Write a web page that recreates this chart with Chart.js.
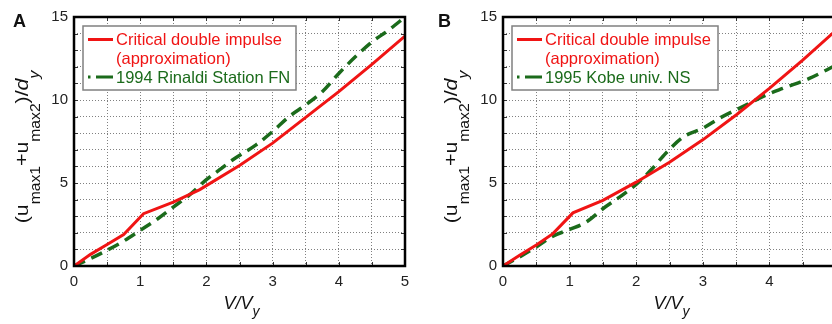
<!DOCTYPE html>
<html>
<head>
<meta charset="utf-8">
<script src="https://cdn.jsdelivr.net/npm/chart.js@4.4.1/dist/chart.umd.min.js"></script>
<style>
  html, body { margin: 0; padding: 0; background: #fff; overflow: hidden; width: 832px; height: 324px; }
  .panel { position: absolute; top: 0; height: 324px; }
  #wrapA { left: 0; width: 420px; }
  #wrapB { left: 420px; width: 440px; }
</style>
</head>
<body>
<div class="panel" id="wrapA"><canvas id="chartA" width="420" height="324"></canvas></div>
<div class="panel" id="wrapB"><canvas id="chartB" width="440" height="324"></canvas></div>
<script>
// values: x = V/Vy, y = (umax1+umax2)/dy
const redA_x = [0, 0.25, 0.5, 0.75, 1.05, 1.5, 1.9, 2.5, 3, 3.5, 4, 4.5, 5];
const redA_y = [0, 0.7, 1.3, 1.9, 3.15, 3.85, 4.6, 6.05, 7.4, 8.95, 10.5, 12.15, 13.85];
const greenA_x = [0, 0.25, 0.5, 0.75, 1, 1.25, 1.5, 1.75, 2, 2.2, 2.4, 2.75, 3, 3.25, 3.5, 3.75, 4, 4.25, 4.5, 4.75, 5];
const greenA_y = [0, 0.45, 0.95, 1.5, 2.15, 2.8, 3.55, 4.3, 5.2, 5.8, 6.4, 7.3, 8.1, 9.0, 9.7, 10.5, 11.6, 12.6, 13.5, 14.2, 15.0];

const redB_x = [0, 0.25, 0.5, 0.75, 1.05, 1.5, 2, 2.5, 3, 3.5, 4, 4.5, 5];
const redB_y = [0, 0.65, 1.27, 1.95, 3.2, 3.95, 5.05, 6.25, 7.6, 9.1, 10.7, 12.4, 14.2];
const greenB_x = [0, 0.25, 0.5, 0.75, 1, 1.25, 1.5, 1.75, 1.9, 2.05, 2.25, 2.4, 2.7, 3, 3.25, 3.6, 3.95, 4.2, 4.6, 5];
const greenB_y = [0, 0.55, 1.15, 1.8, 2.2, 2.65, 3.45, 4.15, 4.6, 5.1, 5.9, 6.6, 7.75, 8.3, 8.9, 9.6, 10.3, 10.7, 11.3, 12.1];

const labelRed = ['Critical double impulse', '(approximation)'];
const labelGreenA = '1994 Rinaldi Station FN';
const labelGreenB = '1995 Kobe univ. NS';

const RED = '#f01414';
const GREEN = '#1b6b1b';
const FONT = '"Liberation Sans", Arial, sans-serif';

Chart.defaults.font.family = FONT;

function pts(xs, ys) {
  return xs.map((x, i) => ({ x: x, y: ys[i] }));
}

// draws a run of text pieces, some of them subscripts
function drawPieces(ctx, pieces, startX) {
  let x = startX;
  pieces.forEach(p => {
    ctx.font = p.font;
    ctx.fillText(p.t, x, p.dy || 0);
    x += ctx.measureText(p.t).width;
  });
}
function piecesWidth(ctx, pieces) {
  let w = 0;
  pieces.forEach(p => { ctx.font = p.font; w += ctx.measureText(p.t).width; });
  return w;
}

const decor = {
  id: 'decor',
  afterDatasetsDraw(chart, args, o) {
    const { ctx, chartArea: a } = chart;
    const xs = chart.scales.x, ys = chart.scales.y;
    ctx.save();

    // short inner ticks on all sides
    ctx.strokeStyle = '#333';
    ctx.lineWidth = 1;
    ctx.beginPath();
    xs.ticks.forEach(t => {
      const px = Math.round(xs.getPixelForValue(t.value)) + 0.5;
      ctx.moveTo(px, a.top); ctx.lineTo(px, a.top + 4);
      ctx.moveTo(px, a.bottom); ctx.lineTo(px, a.bottom - 4);
    });
    ys.ticks.forEach(t => {
      const py = Math.round(ys.getPixelForValue(t.value)) + 0.5;
      ctx.moveTo(a.left, py); ctx.lineTo(a.left + 4, py);
      ctx.moveTo(a.right, py); ctx.lineTo(a.right - 4, py);
    });
    ctx.stroke();

    // frame
    ctx.strokeStyle = '#000';
    ctx.lineWidth = 2.5;
    ctx.strokeRect(a.left, a.top, a.right - a.left, a.bottom - a.top);

    // legend box
    const bx = a.left + 9, by = a.top + 9, bw = o.legendW, bh = 64;
    ctx.fillStyle = '#fff';
    ctx.fillRect(bx, by, bw, bh);
    ctx.strokeStyle = '#808080';
    ctx.lineWidth = 1.5;
    ctx.strokeRect(bx, by, bw, bh);

    ctx.lineCap = 'butt';
    ctx.strokeStyle = RED;
    ctx.lineWidth = 3;
    ctx.beginPath();
    ctx.moveTo(bx + 5, by + 13.5); ctx.lineTo(bx + 30, by + 13.5);
    ctx.stroke();

    ctx.strokeStyle = GREEN;
    ctx.lineWidth = 3;
    ctx.beginPath();
    ctx.moveTo(bx + 5, by + 51); ctx.lineTo(bx + 7.5, by + 51);
    ctx.moveTo(bx + 13, by + 51); ctx.lineTo(bx + 30, by + 51);
    ctx.stroke();

    ctx.font = '16.5px ' + FONT;
    ctx.textBaseline = 'alphabetic';
    ctx.textAlign = 'left';
    ctx.fillStyle = RED;
    ctx.fillText(labelRed[0], bx + 33, by + 19);
    ctx.fillText(labelRed[1], bx + 33, by + 38);
    ctx.fillStyle = GREEN;
    ctx.fillText(o.greenLabel, bx + 33, by + 56.5);
    ctx.restore();
  },
  afterDraw(chart, args, o) {
    const { ctx, chartArea: a } = chart;
    ctx.save();
    ctx.fillStyle = '#111';
    ctx.textAlign = 'left';
    ctx.textBaseline = 'alphabetic';

    // panel letter
    ctx.font = 'bold 18px ' + FONT;
    ctx.fillText(o.letter, o.letterX, 27);

    // x title V/Vy
    const xp = [
      { t: 'V/V', font: 'italic 18px ' + FONT },
      { t: 'y', font: 'italic 14px ' + FONT, dy: 7 }
    ];
    const cx = (a.left + a.right) / 2 + 2;
    ctx.save();
    ctx.translate(cx, 309);
    drawPieces(ctx, xp, -piecesWidth(ctx, xp) / 2);
    ctx.restore();

    // y title (umax1+umax2)/dy
    const main = '19px ' + FONT, sub = '14px ' + FONT;
    const yp = [
      { t: '(u', font: main },
      { t: 'max1', font: sub, dy: 12 },
      { t: '+u', font: main },
      { t: 'max2', font: sub, dy: 12 },
      { t: ')/', font: main },
      { t: 'd', font: 'italic ' + main },
      { t: 'y', font: 'italic ' + sub, dy: 11 }
    ];
    ctx.save();
    ctx.translate(a.left - 46, (a.top + a.bottom) / 2 + 5.5);
    ctx.rotate(-Math.PI / 2);
    ctx.scale(1.12, 1);
    drawPieces(ctx, yp, -piecesWidth(ctx, yp) / 2);
    ctx.restore();

    ctx.restore();
  }
};

function makeChart(id, red, green, opts) {
  return new Chart(document.getElementById(id), {
    type: 'line',
    data: {
      datasets: [
        {
          data: red,
          borderColor: RED,
          borderWidth: 3,
          pointRadius: 0,
          tension: 0,
          fill: false
        },
        {
          data: green,
          borderColor: GREEN,
          borderWidth: 3.5,
          borderDash: [12, 7],
          pointRadius: 0,
          cubicInterpolationMode: 'monotone',
          fill: false
        }
      ]
    },
    options: {
      responsive: false,
      animation: false,
      layout: { padding: { top: 17, right: opts.padRight, left: 0, bottom: 0 } },
      plugins: {
        legend: { display: false },
        tooltip: { enabled: false },
        decor: opts
      },
      scales: {
        x: {
          type: 'linear',
          min: 0,
          max: 5,
          afterFit: s => { s.height = 58; },
          border: { display: false, dash: [1, 2] },
          grid: { color: '#808080', lineWidth: 1, drawTicks: false },
          ticks: {
            stepSize: 0.5,
            autoSkip: false,
            maxRotation: 0,
            padding: 7,
            color: '#222',
            font: { size: 15 },
            callback: v => (Number.isInteger(v) ? String(v) : '')
          }
        },
        y: {
          type: 'linear',
          min: 0,
          max: 15,
          afterFit: s => { s.width = opts.yWidth; },
          border: { display: false, dash: [1, 2] },
          grid: { color: '#808080', lineWidth: 1, drawTicks: false },
          ticks: {
            stepSize: 1,
            autoSkip: false,
            padding: 6,
            color: '#222',
            font: { size: 15 },
            callback: v => (v % 5 === 0 ? String(v) : '')
          }
        }
      }
    },
    plugins: [decor]
  });
}

makeChart('chartA', pts(redA_x, redA_y), pts(greenA_x, greenA_y),
  { letter: 'A', letterX: 13, legendW: 213, greenLabel: labelGreenA, padRight: 15, yWidth: 74 });
makeChart('chartB', pts(redB_x, redB_y), pts(greenB_x, greenB_y),
  { letter: 'B', letterX: 18, legendW: 206, greenLabel: labelGreenB, padRight: 24, yWidth: 83 });
</script>
</body>
</html>
